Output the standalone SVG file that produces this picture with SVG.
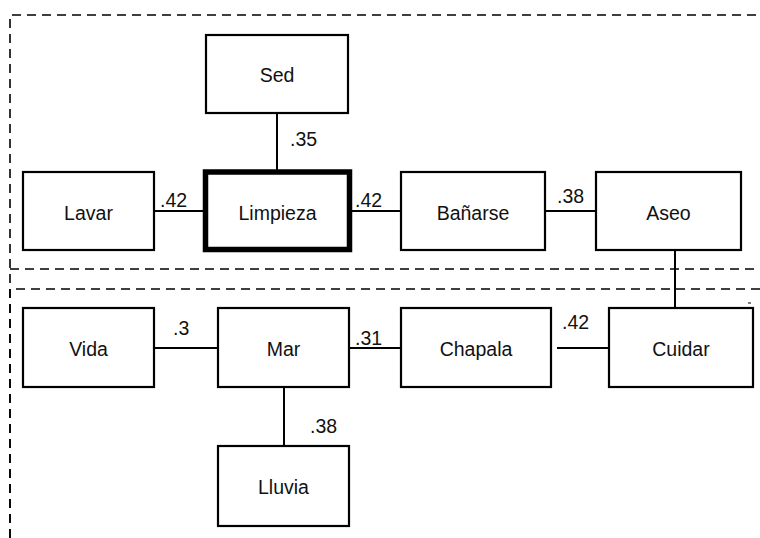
<svg xmlns="http://www.w3.org/2000/svg" width="760" height="538" viewBox="0 0 760 538">
<style>
.bg{fill:#fff}
.grp{fill:none;stroke:#000;stroke-width:1.6;stroke-dasharray:9 6}
.box{fill:#fff;stroke:#000;stroke-width:2.2}
.bold{fill:#fff;stroke:#000;stroke-width:5.5}
.ln{stroke:#000;stroke-width:2;fill:none}
text{font-family:"Liberation Sans",Arial,sans-serif;font-size:19.5px;fill:#111}
.c{text-anchor:middle}
</style>
<rect class="bg" x="0" y="0" width="760" height="538"/>
<g id="groups">
<path class="grp" d="M10,538 V15 H760"/>
<path class="grp" d="M10,269 H760"/>
<path class="grp" d="M10,538 V289 H760"/>
<path class="ln" d="M748,303 H751" style="stroke-width:1"/>
</g>
<g id="connectors">
<path class="ln" d="M277,113 V170"/>
<path class="ln" d="M154,211 H205"/>
<path class="ln" d="M350,211 H401"/>
<path class="ln" d="M545,211 H596"/>
<path class="ln" d="M675,250 V308"/>
<path class="ln" d="M154,348 H218"/>
<path class="ln" d="M349,348 H401"/>
<path class="ln" d="M557,348 H609"/>
<path class="ln" d="M284,387 V446"/>
<text x="290" y="146">.35</text>
<text x="160" y="207">.42</text>
<text x="355" y="207">.42</text>
<text x="557" y="203">.38</text>
<text x="173" y="335">.3</text>
<text x="355" y="345">.31</text>
<text x="562" y="329">.42</text>
<text x="310" y="433">.38</text>
</g>
<g id="sed"><rect class="box" x="206" y="35" width="142" height="78"/><text class="c" x="277" y="82">Sed</text></g>
<g id="lavar"><rect class="box" x="23" y="172" width="131" height="78"/><text class="c" x="88.5" y="220">Lavar</text></g>
<g id="limpieza"><rect class="bold" x="205.5" y="172" width="144" height="77.5"/><text class="c" x="277.5" y="220">Limpieza</text></g>
<g id="banarse"><rect class="box" x="401" y="172" width="144" height="78"/><text class="c" x="473" y="220">Bañarse</text></g>
<g id="aseo"><rect class="box" x="596" y="172" width="145" height="78"/><text class="c" x="668.5" y="220">Aseo</text></g>
<g id="vida"><rect class="box" x="23" y="308" width="131" height="79"/><text class="c" x="88.5" y="356">Vida</text></g>
<g id="mar"><rect class="box" x="218" y="308" width="131" height="79"/><text class="c" x="283.5" y="356">Mar</text></g>
<g id="chapala"><rect class="box" x="401" y="308" width="150" height="79"/><text class="c" x="476" y="356">Chapala</text></g>
<g id="cuidar"><rect class="box" x="609" y="308" width="144" height="79"/><text class="c" x="681" y="356">Cuidar</text></g>
<g id="lluvia"><rect class="box" x="218" y="446" width="131" height="80"/><text class="c" x="283.5" y="494">Lluvia</text></g>
</svg>
